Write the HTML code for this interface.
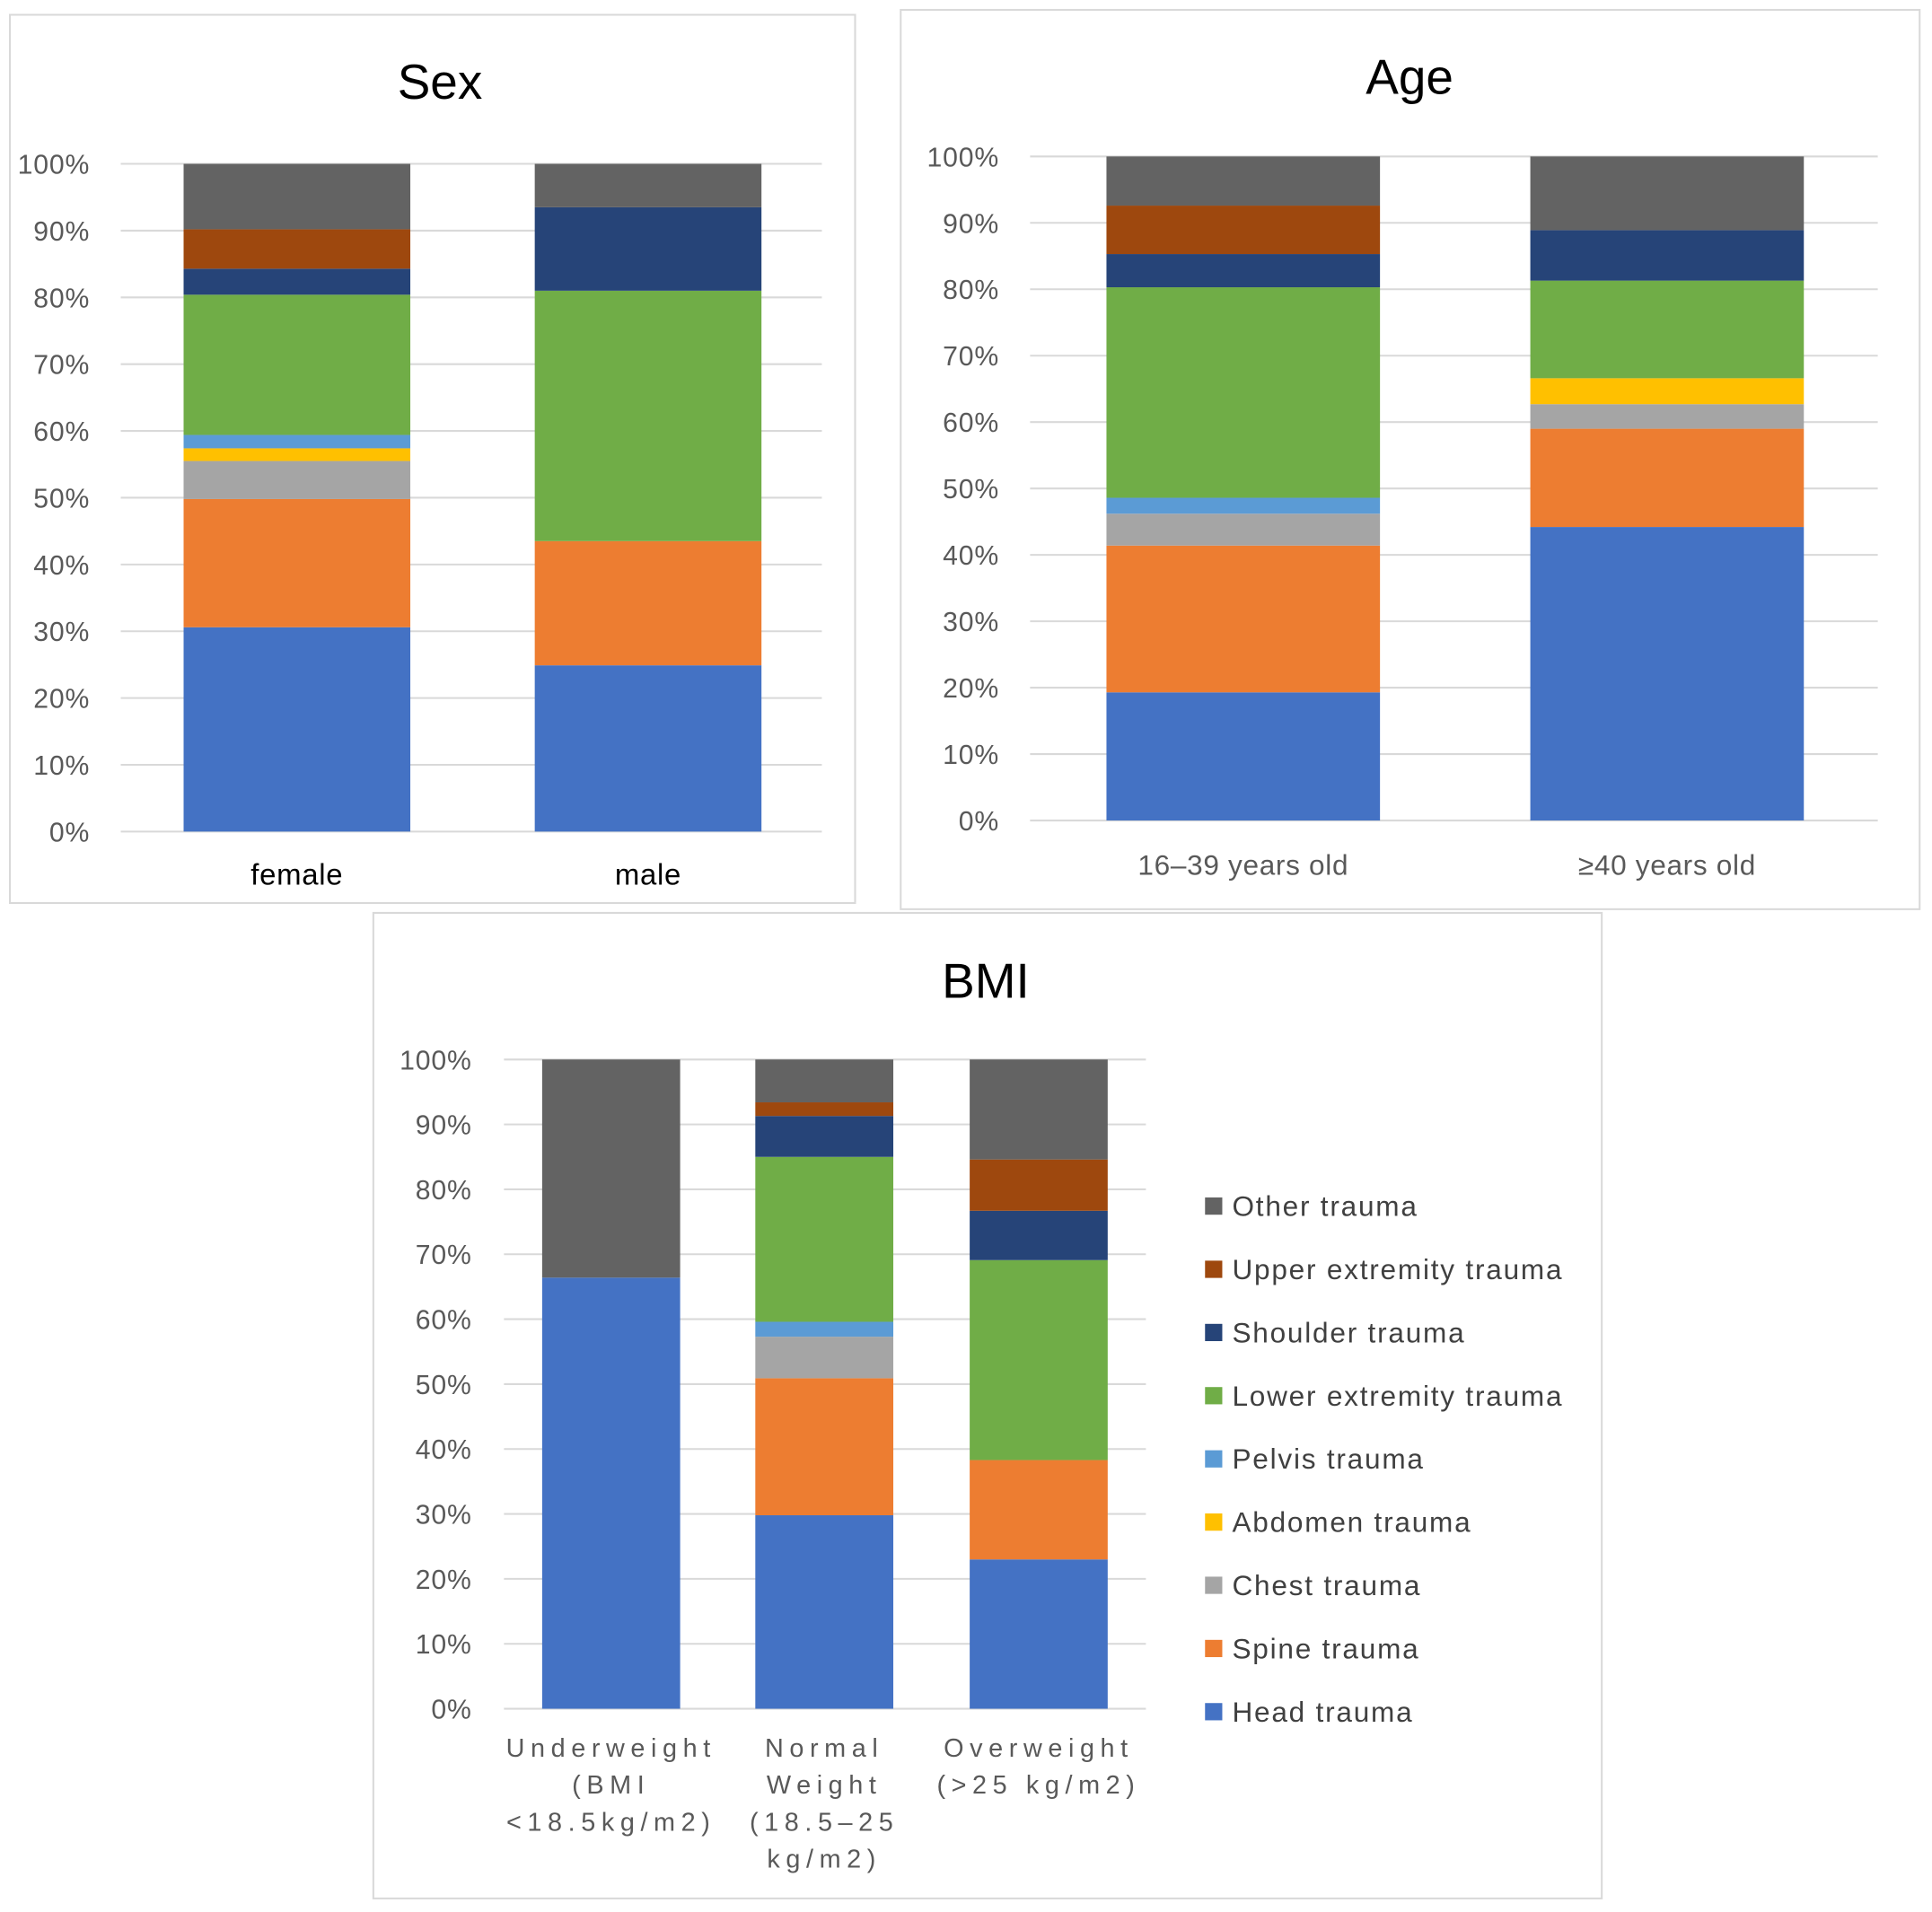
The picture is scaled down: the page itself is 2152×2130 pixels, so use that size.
<!DOCTYPE html>
<html><head><meta charset="utf-8"><style>
html,body{margin:0;padding:0;background:#fff;}
svg{display:block;font-family:"Liberation Sans","DejaVu Sans",sans-serif;}
</style></head><body>
<svg id="root" width="2152" height="2130" viewBox="0 0 1568 1552" xmlns="http://www.w3.org/2000/svg"></svg>
<script>
const seriesNames = ["Head trauma","Spine trauma","Chest trauma","Abdomen trauma","Pelvis trauma","Lower extremity trauma","Shoulder trauma","Upper extremity trauma","Other trauma"];
const seriesColors = ["#4472C4","#ED7D31","#A5A5A5","#FFC000","#5B9BD5","#70AD47","#264478","#9E480E","#636363"];
const tickLabels = ["0%","10%","20%","30%","40%","50%","60%","70%","80%","90%","100%"];
const sexCategories = ["female","male"];
const sexValues = [
  [30.6,19.2,5.7,1.9,2.0,21.0,3.9,5.9,9.8],
  [24.9,18.6,0,0,0,37.5,12.5,0,6.5]
];
const ageCategories = ["16–39 years old","≥40 years old"];
const ageValues = [
  [19.3,22.1,4.8,0,2.4,31.7,5.0,7.3,7.4],
  [44.2,14.8,3.7,3.9,0,14.7,7.6,0,11.1]
];
const bmiCategories = [["Underweight","(BMI","<18.5kg/m2)"],["Normal","Weight","(18.5–25","kg/m2)"],["Overweight","(>25 kg/m2)"]];
const bmiValues = [
  [66.4,0,0,0,0,0,0,0,33.6],
  [29.8,21.1,6.4,0,2.3,25.4,6.3,2.1,6.6],
  [23.0,15.3,0,0,0,30.8,7.6,7.9,15.4]
];

const NS="http://www.w3.org/2000/svg";
const root=document.getElementById('root');
function mk(tag,attrs,parent){const e=document.createElementNS(NS,tag);for(const k in attrs)e.setAttribute(k,attrs[k]);(parent||root).appendChild(e);return e;}

function chart(cfg){
  const g=mk('g',{});
  
  
  const box=mk('rect',{x:cfg.box[0],y:cfg.box[1],width:cfg.box[2]-cfg.box[0],height:cfg.box[3]-cfg.box[1],fill:'#fff',stroke:'#d9d9d9','stroke-width':1.5},g);
  
  
  const t=mk('text',{x:cfg.titleX,y:cfg.titleY,'font-size':40,'text-anchor':'middle',fill:'#000'},g);
  t.textContent=cfg.title;
  
  
  const y=v=>cfg.y0-(cfg.y0-cfg.y100)*v/100;
  tickLabels.forEach((lab,i)=>{
    const v=i*10;
    const ln=mk('line',{x1:cfg.gx0,x2:cfg.gx1,y1:y(v),y2:y(v),stroke:'#d9d9d9','stroke-width':1.5},g);
    
    
    const tx=mk('text',{x:cfg.tickX,y:y(v)+8,'font-size':22,'text-anchor':'end',fill:'#595959','letter-spacing':0.6},g);
    tx.textContent=lab;
    
    
  });
  cfg.values.forEach((vals,ci)=>{
    const bx=cfg.barX[ci];
    let cum=0;
    vals.forEach((v,si)=>{
      if(v<=0)return;
      const r=mk('rect',{x:bx,width:cfg.barW,y:y(cum+v),height:y(cum)-y(cum+v),fill:seriesColors[si]},g);
      
      
      cum+=v;
    });
    const cat=cfg.categories[ci];
    const lines=Array.isArray(cat)?cat:[cat];
    lines.forEach((l,li)=>{
      const tx=mk('text',{x:bx+cfg.barW/2,y:cfg.labelY+li*30,'font-size':cfg.labelSize,'text-anchor':'middle',fill:cfg.labelColor,'letter-spacing':cfg.ls||0},g);
      tx.textContent=l;
      
      
    });
  });
}
chart({name:'sex',title:'Sex',box:[8,12,694,733],titleX:357,titleY:80,y0:675,y100:133,gx0:98,gx1:667,tickX:73,barX:[149,434],barW:184,categories:sexCategories,values:sexValues,labelY:718,labelSize:24,labelColor:'#000',ls:0.5});
chart({name:'age',title:'Age',box:[731,8,1558,738],titleX:1144,titleY:76,y0:666,y100:127,gx0:836,gx1:1524,tickX:811,barX:[898,1242],barW:222,categories:ageCategories,values:ageValues,labelY:710,labelSize:23,labelColor:'#595959',ls:0.5});
chart({name:'bmi',title:'BMI',box:[303,741,1300,1541],titleX:800,titleY:810,y0:1387,y100:860,gx0:409,gx1:930,tickX:383,barX:[440,613,787],barW:112,categories:bmiCategories,values:bmiValues,labelY:1426,labelSize:21,labelColor:'#595959',ls:4.8});

const lg=mk('g',{});


for(let i=seriesNames.length-1;i>=0;i--){
  const k=seriesNames.length-1-i;
  const yy=979+k*51.3;
  const sw=mk('rect',{x:978,y:yy-7,width:14,height:14,fill:seriesColors[i]},lg);
  
  
  const tx=mk('text',{x:1000,y:yy+8,'font-size':23,fill:'#404040','letter-spacing':1.3},lg);
  tx.textContent=seriesNames[i];
  
  
}
</script>
</body></html>
